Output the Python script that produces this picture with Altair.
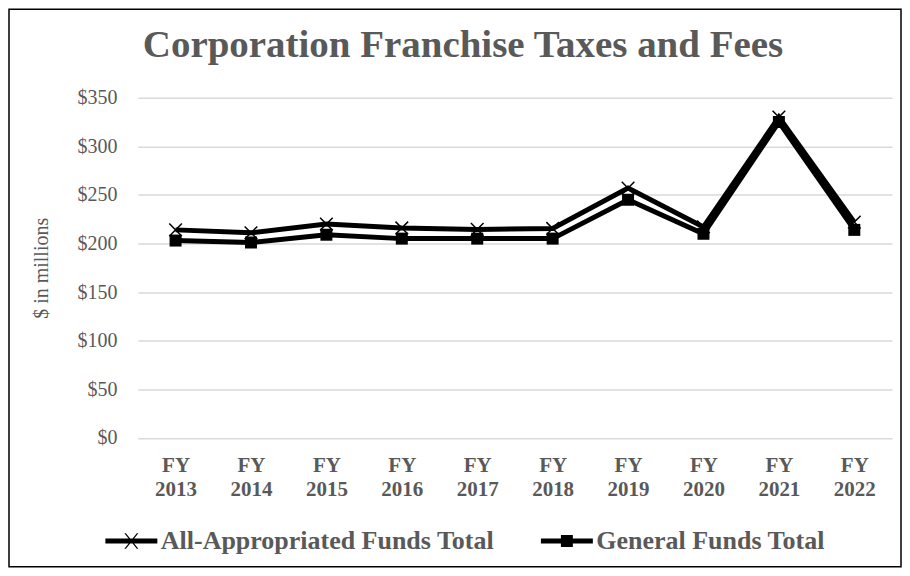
import altair as alt
import pandas as pd

years = ["FY 2013", "FY 2014", "FY 2015", "FY 2016", "FY 2017",
         "FY 2018", "FY 2019", "FY 2020", "FY 2021", "FY 2022"]
all_approp = [214, 211, 220, 216, 214.5, 215.5, 257, 217, 330, 222]
general = [203, 201, 209, 205, 205, 205, 245, 210, 325, 214]
series_names = ["All-Appropriated Funds Total", "General Funds Total"]
y_ticks = [0, 50, 100, 150, 200, 250, 300, 350]

FONT = "Liberation Serif"
GRAY = "#595959"

df = pd.DataFrame({
    "year": years * 2,
    "value": all_approp + general,
    "series": [series_names[0]] * len(years) + [series_names[1]] * len(years),
})

x_enc = alt.X(
    "year:N", sort=years,
    scale=alt.Scale(type="point", padding=0.5),
    axis=alt.Axis(title=None, labelAngle=0, labelExpr="split(datum.value, ' ')",
                  labelFont=FONT, labelFontWeight="bold", labelFontSize=21,
                  labelColor=GRAY, labelLineHeight=24, labelPadding=17,
                  ticks=False, domain=False, grid=False),
)
y_enc = alt.Y(
    "value:Q",
    scale=alt.Scale(domain=[0, 350], nice=False),
    axis=alt.Axis(values=y_ticks, labelExpr="'$' + datum.value",
                  title="$ in millions", titleFont=FONT, titleFontSize=20,
                  titleFontWeight="normal", titleColor=GRAY, titlePadding=25,
                  labelFont=FONT, labelFontSize=20, labelColor=GRAY, labelPadding=21,
                  grid=True, gridColor="#d9d9d9", gridWidth=1.5,
                  domain=False, ticks=False),
)

base = alt.Chart(df)

lines = base.mark_line(color="black", strokeWidth=5).encode(
    x=x_enc, y=y_enc, detail="series:N")

x_path = "M-1,-1L1,1M-1,1L1,-1"
x_marks = base.mark_point(shape=x_path, size=160, color="black", strokeWidth=1.5,
                          filled=False, opacity=1).encode(
    x=x_enc, y=y_enc).transform_filter(alt.datum.series == series_names[0])
sq_marks = base.mark_square(size=144, color="black", opacity=1).encode(
    x=x_enc, y=y_enc).transform_filter(alt.datum.series == series_names[1])

leg_x = ("M-1,-0.096L1,-0.096L1,0.096L-1,0.096Z "
         "M-0.27,-0.3L-0.21,-0.3L0.27,0.3L0.21,0.3Z "
         "M0.21,-0.3L0.27,-0.3L-0.21,0.3L-0.27,0.3Z")
leg_sq = ("M-1,-0.096L1,-0.096L1,0.096L-1,0.096Z "
          "M-0.23,-0.23L0.23,-0.23L0.23,0.23L-0.23,0.23Z")

legend_layer = base.mark_point(filled=True, color="black", opacity=1).encode(
    x=x_enc, y=y_enc,
    shape=alt.Shape("series:N",
                    scale=alt.Scale(domain=series_names, range=[leg_x, leg_sq]),
                    legend=alt.Legend(title=None, orient="none", direction="horizontal",
                                      columns=2, legendX=-33, legendY=417,
                                      symbolSize=2704, symbolFillColor="black",
                                      symbolStrokeColor="black", symbolStrokeWidth=0.5,
                                      symbolOpacity=1,
                                      labelFont=FONT, labelFontSize=26,
                                      labelFontWeight="bold", labelColor=GRAY,
                                      labelOffset=3, columnPadding=45, padding=0,
                                      labelLimit=0)),
).transform_filter("false")

frame = alt.Chart(pd.DataFrame({"f": [0]})).mark_rect(
    fill="transparent", stroke="black", strokeWidth=1.5).encode(
    x=alt.value(-129), x2=alt.value(764), y=alt.value(-88.5), y2=alt.value(469.5))

chart = alt.layer(frame, lines, x_marks, sq_marks, legend_layer).properties(
    width=755, height=340.5,
    title=alt.TitleParams("Corporation  Franchise Taxes and Fees", font=FONT,
                          fontSize=39, fontWeight="bold", color=GRAY,
                          anchor="middle", frame="group", dx=-52, offset=-56),
    autosize=alt.AutoSizeParams(type="none"),
    padding={"left": 130, "top": 89.5, "right": 10, "bottom": 130},
).configure_view(stroke=None)

chart.save("out.html", embed_options={"renderer": "svg", "actions": False})
